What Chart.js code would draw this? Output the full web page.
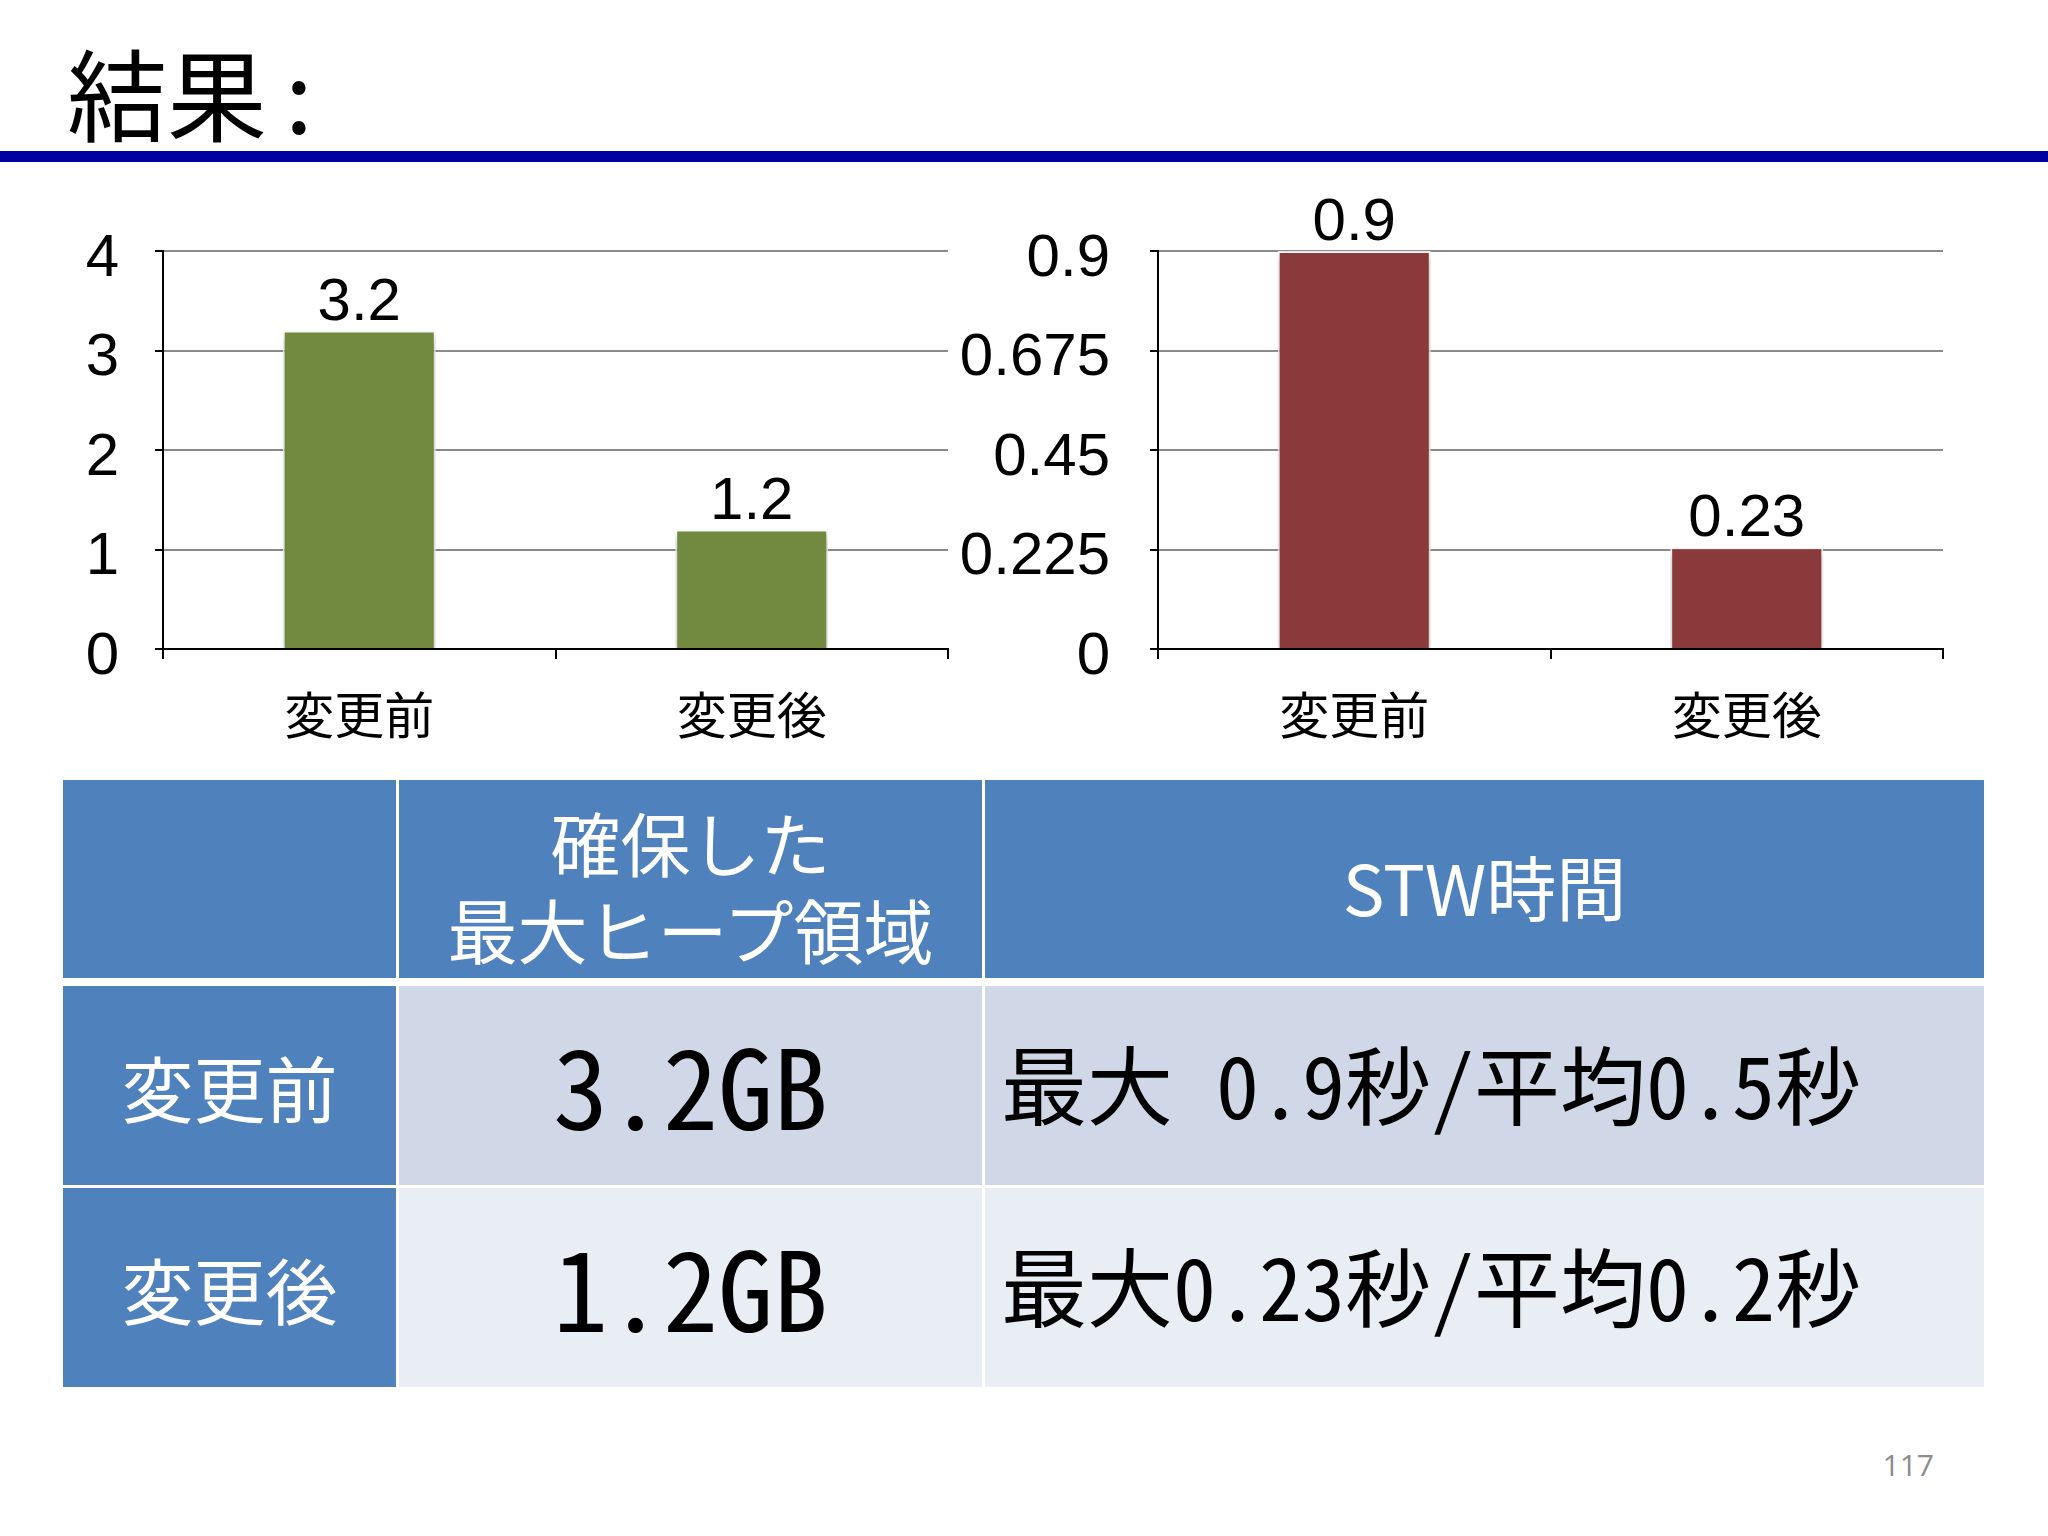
<!DOCTYPE html>
<html>
<head>
<meta charset="utf-8">
<script src="https://cdn.jsdelivr.net/npm/chart.js@4.4.1/dist/chart.umd.min.js"></script>
<style>
  html, body { margin:0; padding:0; background:#ffffff; }
  body { width:2048px; height:1536px; position:relative; overflow:hidden; font-family:"Noto Sans CJK JP", sans-serif; }
  #title { position:absolute; left:67px; top:31px; font-size:100px; line-height:120px; color:#000; font-family:"Noto Sans CJK JP", sans-serif; white-space:pre; }
  #title .colon { margin-left:18px; }
  #rule { position:absolute; left:0; top:151px; width:2048px; height:11px; background:#0000a0; }
  canvas { position:absolute; }
  #c1 { left:40px; top:190px; }
  #c2 { left:960px; top:190px; }
  .cell { position:absolute; box-sizing:border-box; display:flex; align-items:center; justify-content:center; text-align:center; }
  .hdr { background:#4f81bd; color:#fff; font-size:70px; line-height:87px; white-space:pre; font-weight:400; padding-top:12px; }
  .lbl { background:#4f81bd; color:#fff; font-size:72px; }
  .r0 { background:#d0d8e8; }
  .r1 { background:#e9edf4; }
  .mono { font-family:"Noto Sans Mono CJK JP", "DejaVu Sans Mono", "Noto Sans CJK JP", monospace; color:#000; white-space:pre; padding-bottom:8px; }
  .gb { font-size:110px; }
  .stw { font-size:86px; justify-content:flex-start; padding-left:16px; }
  #page { position:absolute; right:114px; top:1444px; font-size:30px; color:#8c8c8c; font-family:"Open Sans", sans-serif; }
</style>
</head>
<body>
<div id="title">結果<span class="colon">:</span></div>
<div id="rule"></div>
<canvas id="c1" width="920" height="580"></canvas>
<canvas id="c2" width="1030" height="580"></canvas>
<div id="table"></div>
<div id="page">117</div>
<script>
// ---- data ----
const categories = ['変更前', '変更後'];
const heapValues = [3.2, 1.2];          // GB
const stwValues = [0.9, 0.23];          // seconds
const heapTicks = [0, 1, 2, 3, 4];
const stwTicks = [0, 0.225, 0.45, 0.675, 0.9];
const heapTickLabels = ['0', '1', '2', '3', '4'];
const stwTickLabels = ['0', '0.225', '0.45', '0.675', '0.9'];

const tableHeaders = ['', '確保した\n最大ヒープ領域', 'STW時間'];
const tableRowLabels = ['変更前', '変更後'];
const heapTexts = ['3.2GB', '1.2GB'];
const stwTexts = ['最大 0.9秒/平均0.5秒', '最大0.23秒/平均0.2秒'];

// ---- chart helpers ----
const tickFont = { family: '"Liberation Sans Narrow", "Liberation Sans", sans-serif', size: 60 };
const catFont = { family: '"Noto Sans CJK JP", sans-serif', size: 50 };

const valueLabels = {
  id: 'valueLabels',
  afterDatasetsDraw(chart) {
    const ctx = chart.ctx;
    ctx.save();
    ctx.font = `${tickFont.size}px ${tickFont.family}`;
    ctx.fillStyle = '#000';
    ctx.textAlign = 'center';
    ctx.textBaseline = 'alphabetic';
    chart.data.datasets.forEach((ds, di) => {
      chart.getDatasetMeta(di).data.forEach((el, i) => {
        ctx.fillText(String(ds.data[i]), el.x, el.y - 11);
      });
    });
    ctx.restore();
  }
};
const barShadow = {
  id: 'barShadow',
  beforeDatasetDraw(chart) {
    const ctx = chart.ctx;
    ctx.save();
    ctx.shadowColor = 'rgba(0,0,0,0.28)';
    ctx.shadowBlur = 8;
    ctx.shadowOffsetY = 4;
  },
  afterDatasetDraw(chart) { chart.ctx.restore(); }
};

function makeChart(id, values, color, ticks, tickLabels, yMax, axisWidth, padRight, tickPad) {
  return new Chart(document.getElementById(id), {
    type: 'bar',
    data: {
      labels: categories,
      datasets: [{
        data: values,
        backgroundColor: color,
        borderColor: 'rgba(255,255,255,0.85)',
        borderWidth: 2,
        borderSkipped: 'bottom',
        barPercentage: 0.39,
        categoryPercentage: 1.0
      }]
    },
    options: {
      responsive: false,
      animation: false,
      devicePixelRatio: 1,
      layout: { padding: { top: 61, right: padRight, bottom: 0, left: 0 } },
      plugins: { legend: { display: false }, tooltip: { enabled: false } },
      scales: {
        x: {
          grid: { offset: true, drawOnChartArea: false, drawTicks: true, tickLength: 10, tickColor: '#000', lineWidth: 2 },
          border: { display: true, color: '#000', width: 2 },
          ticks: { font: catFont, color: '#000', padding: 26, maxRotation: 0 },
          afterFit: s => { s.height = 121; s.paddingLeft = 0; s.paddingRight = 0; }
        },
        y: {
          min: 0, max: yMax,
          afterBuildTicks: s => { s.ticks = ticks.map(v => ({ value: v })); },
          grid: {
            color: c => (c.tick && c.tick.value === 0) ? 'rgba(0,0,0,0)' : '#8a8a8a',
            lineWidth: 2, tickLength: 8, tickColor: '#000'
          },
          border: { display: true, color: '#000', width: 2 },
          ticks: {
            font: tickFont, color: '#000', padding: tickPad, labelOffset: 8,
            callback: (v, i) => tickLabels[i]
          },
          afterFit: s => { s.width = axisWidth; s.paddingTop = 0; s.paddingBottom = 0; }
        }
      }
    },
    plugins: [barShadow, valueLabels]
  });
}

makeChart('c1', heapValues, '#728a40', heapTicks, heapTickLabels, 4, 123, 12, 36);
makeChart('c2', stwValues, '#8a3a3a', stwTicks, stwTickLabels, 0.9, 198, 47, 40);

// ---- table ----
const colX = [63, 399, 985];
const colW = [333, 583, 999];
const rowY = [780, 986, 1188];
const rowH = [198, 199, 199];
const table = document.getElementById('table');
function cell(x, y, w, h, cls, text) {
  const d = document.createElement('div');
  d.className = 'cell ' + cls;
  d.style.left = x + 'px'; d.style.top = y + 'px';
  d.style.width = w + 'px'; d.style.height = h + 'px';
  d.textContent = text;
  table.appendChild(d);
}
tableHeaders.forEach((t, c) => cell(colX[c], rowY[0], colW[c], rowH[0], 'hdr', t));
tableRowLabels.forEach((t, r) => {
  cell(colX[0], rowY[r + 1], colW[0], rowH[r + 1], 'lbl', t);
  cell(colX[1], rowY[r + 1], colW[1], rowH[r + 1], 'r' + r + ' mono gb', heapTexts[r]);
  cell(colX[2], rowY[r + 1], colW[2], rowH[r + 1], 'r' + r + ' mono stw', stwTexts[r]);
});
</script>
</body>
</html>
